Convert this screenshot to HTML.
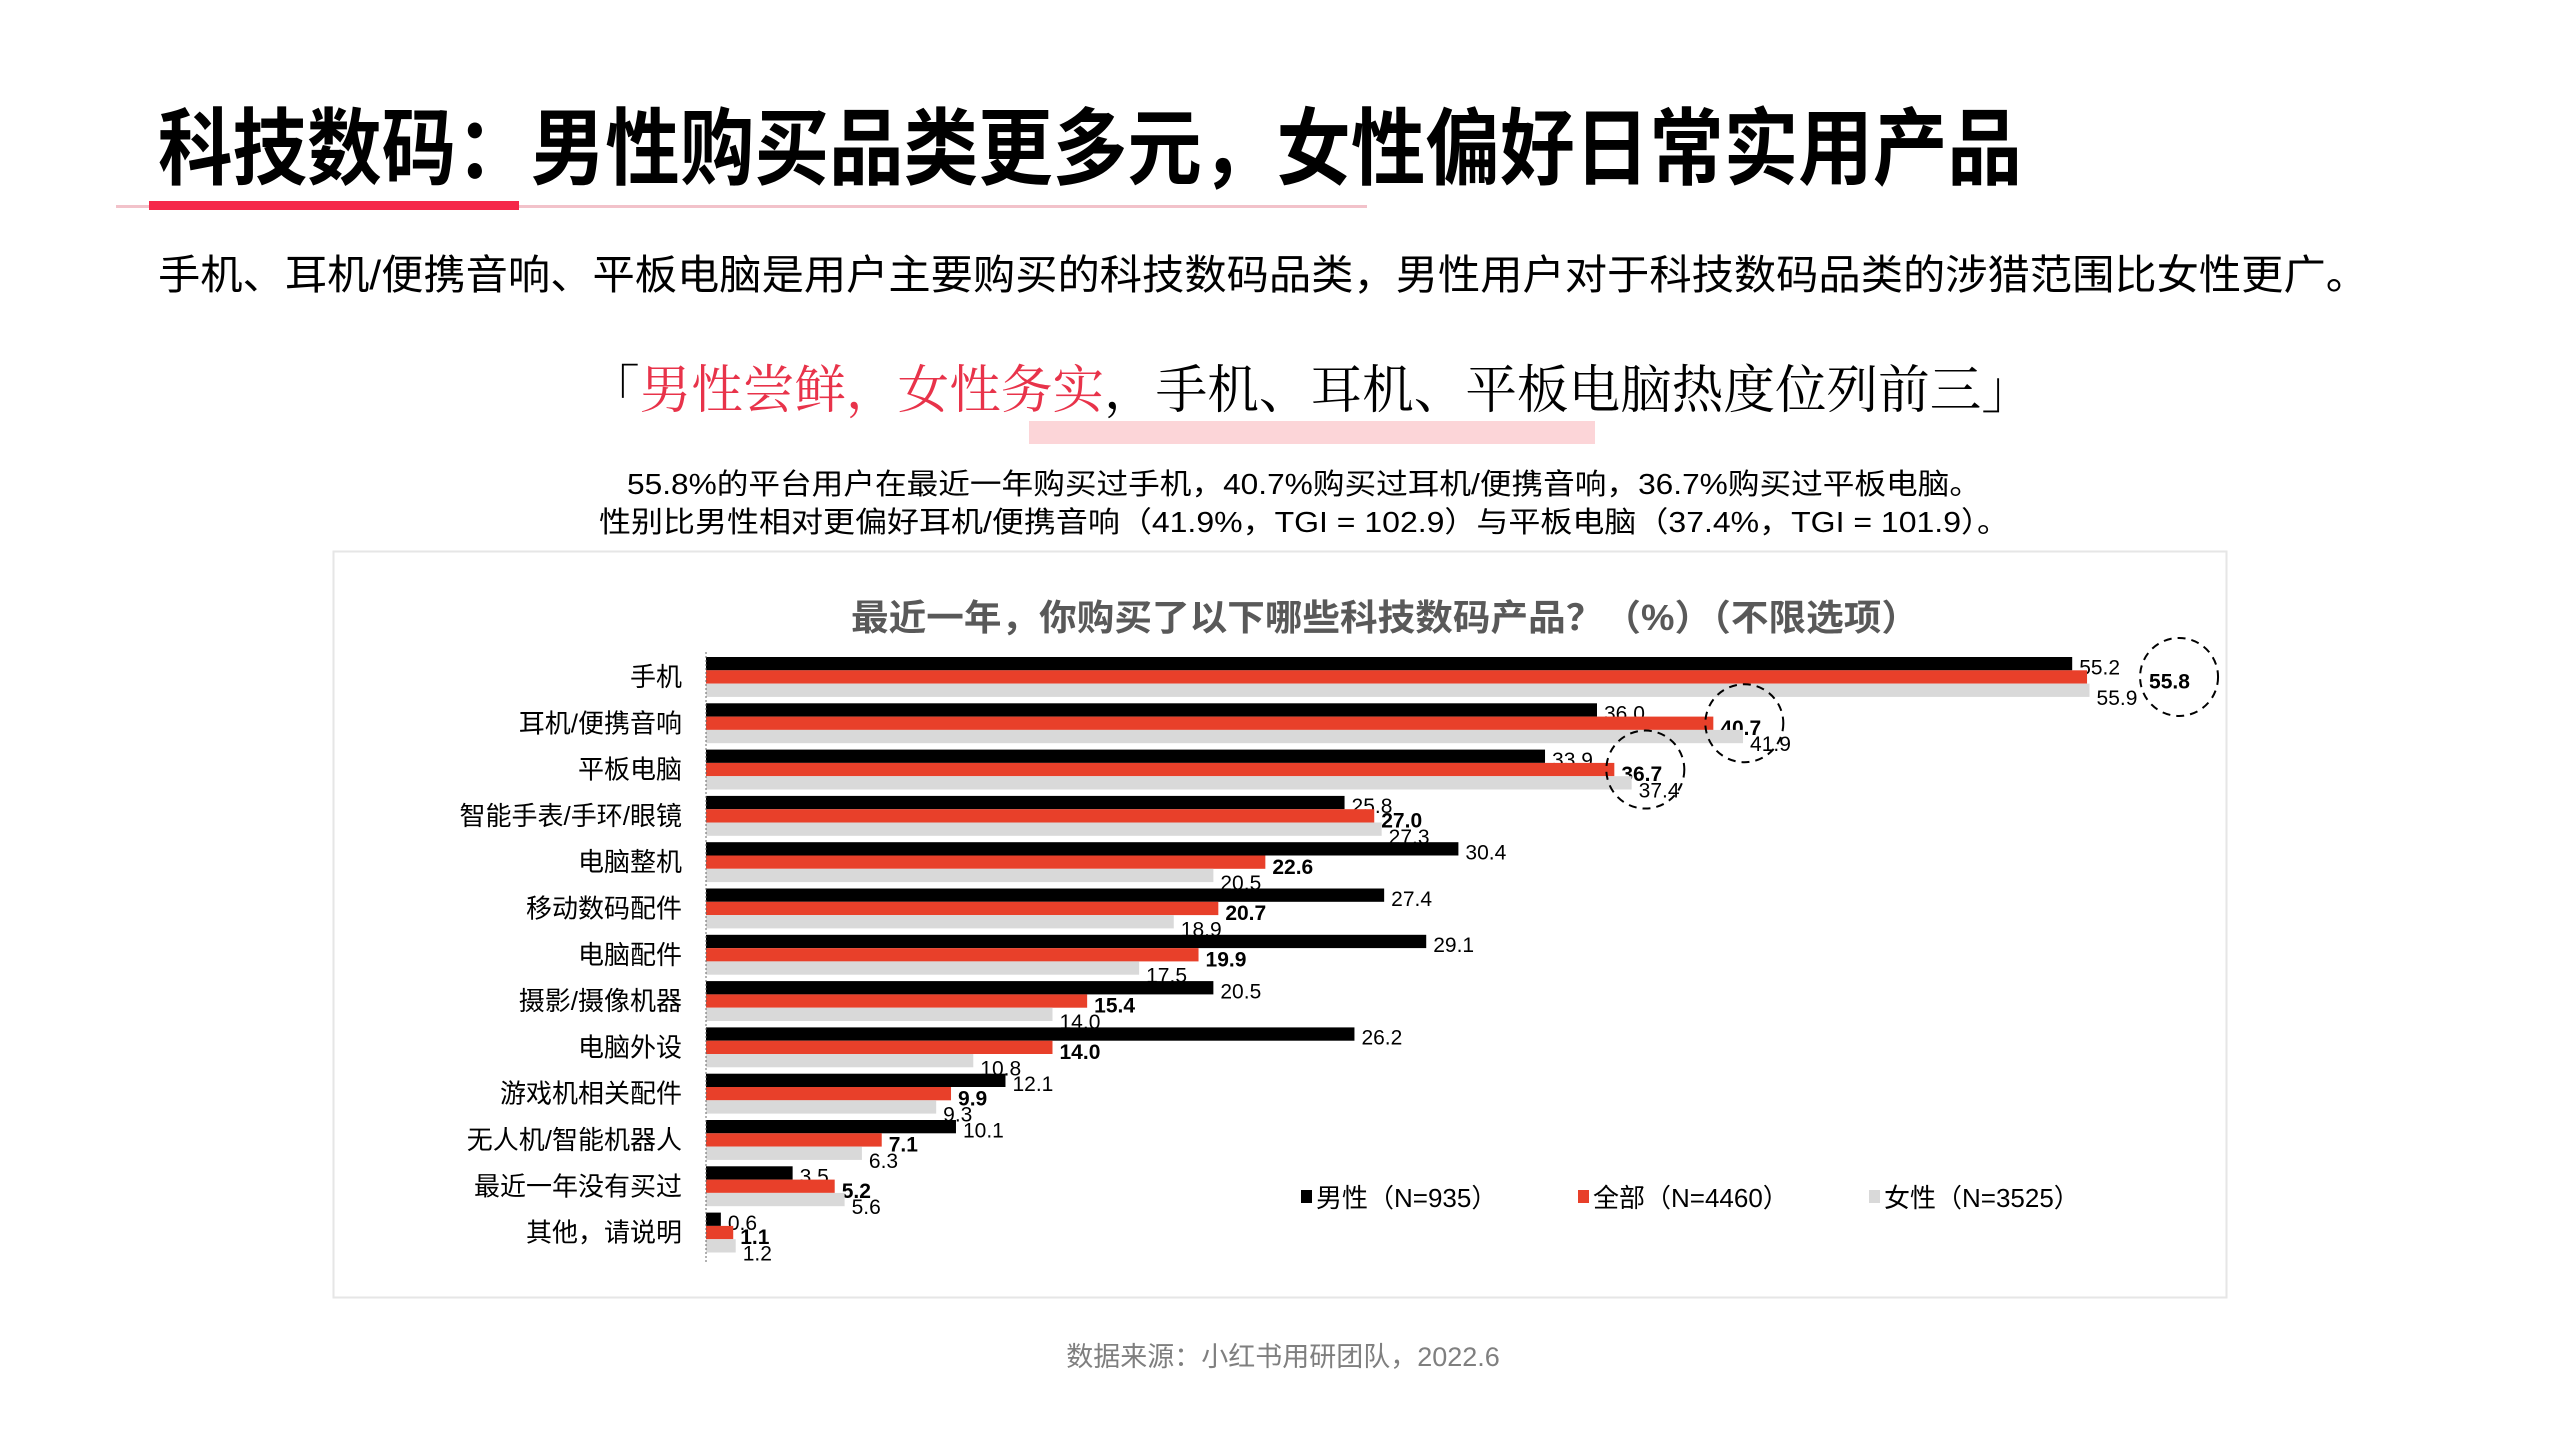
<!DOCTYPE html>
<html><head><meta charset="utf-8">
<style>
html,body{margin:0;padding:0;background:#fff;width:2560px;height:1440px;overflow:hidden}
svg{display:block}
text{font-family:"Liberation Sans","Noto Sans CJK SC",sans-serif}
</style></head>
<body>
<svg id="page" width="2560" height="1440" viewBox="0 0 2560 1440" xmlns="http://www.w3.org/2000/svg">
  <text x="158" y="178" font-size="84" font-weight="bold" fill="#000" textLength="1864" lengthAdjust="spacingAndGlyphs">科技数码：男性购买品类更多元，女性偏好日常实用产品</text>
  <rect x="116" y="205" width="1251" height="3" fill="#f2c2ca"/>
  <rect x="149" y="201" width="370" height="9" fill="#f5284a"/>
  <text x="158" y="289" font-size="41" fill="#000" textLength="2210" lengthAdjust="spacingAndGlyphs">手机、耳机/便携音响、平板电脑是用户主要购买的科技数码品类，男性用户对于科技数码品类的涉猎范围比女性更广。</text>
  <rect x="1029" y="421" width="566" height="23" fill="#fcd5d8"/>
  <text x="588" y="408" font-size="52" textLength="1445" lengthAdjust="spacingAndGlyphs" style='font-family:"Liberation Serif","Noto Serif CJK SC",serif'><tspan fill="#000">「</tspan><tspan fill="#e8334a">男性尝鲜，女性务实</tspan><tspan fill="#000">，手机、耳机、平板电脑热度位列前三」</tspan></text>
  <text x="627" y="494" font-size="29" fill="#000" textLength="1354" lengthAdjust="spacingAndGlyphs">55.8%的平台用户在最近一年购买过手机，40.7%购买过耳机/便携音响，36.7%购买过平板电脑。</text>
  <text x="599" y="532" font-size="29" fill="#000" textLength="1410" lengthAdjust="spacingAndGlyphs">性别比男性相对更偏好耳机/便携音响（41.9%，TGI = 102.9）与平板电脑（37.4%，TGI = 101.9）。</text>
  <rect x="333.5" y="551.5" width="1893" height="746" fill="#fff" stroke="#e6e6e6" stroke-width="2"/>
  <text x="1385" y="630" font-size="36" font-weight="bold" fill="#595959" text-anchor="middle" textLength="1068" lengthAdjust="spacingAndGlyphs">最近一年，你购买了以下哪些科技数码产品？（%）（不限选项）</text>
  <g id="bars"></g>
  <line x1="706" y1="652" x2="706" y2="1262" stroke="#666" stroke-width="1" stroke-dasharray="2,2"/>
  <g>
    <g><rect x="1301" y="1190" width="11" height="13" fill="#000"/><text x="1316" y="1207" font-size="26">男性（N=935）</text></g>
    <g><rect x="1578" y="1190" width="11" height="13" fill="#e8402a"/><text x="1593" y="1207" font-size="26">全部（N=4460）</text></g>
    <g><rect x="1869" y="1190" width="11" height="13" fill="#d9d9d9"/><text x="1884" y="1207" font-size="26">女性（N=3525）</text></g>
  </g>
  <text x="1283" y="1366" font-size="27" fill="#7f7f7f" text-anchor="middle">数据来源：小红书用研团队，2022.6</text>
</svg>
<script>
const categories = ["手机","耳机/便携音响","平板电脑","智能手表/手环/眼镜","电脑整机","移动数码配件","电脑配件","摄影/摄像机器","电脑外设","游戏机相关配件","无人机/智能机器人","最近一年没有买过","其他，请说明"];
const maleValues = [55.2,36.0,33.9,25.8,30.4,27.4,29.1,20.5,26.2,12.1,10.1,3.5,0.6];
const allValues = [55.8,40.7,36.7,27.0,22.6,20.7,19.9,15.4,14.0,9.9,7.1,5.2,1.1];
const femaleValues = [55.9,41.9,37.4,27.3,20.5,18.9,17.5,14.0,10.8,9.3,6.3,5.6,1.2];
const highlighted = [0,1,2];

const NS = "http://www.w3.org/2000/svg";
const g = document.getElementById("bars");
const x0 = 706, unit = 24.75, top0 = 657, step = 46.3, bh = 13.3;
function xScale(v){ return x0 + v*unit; }
function yGroup(i){ return top0 + i*step; }
function mk(tag, attrs){ const e = document.createElementNS(NS, tag); for (const k in attrs) e.setAttribute(k, attrs[k]); g.appendChild(e); return e; }

const series = [
  {vals: maleValues, color:"#000000", name:"male", bold:false, dy:-1},
  {vals: allValues, color:"#e8402a", name:"all", bold:true, dy:0},
  {vals: femaleValues, color:"#d9d9d9", name:"female", bold:false, dy:3}
];
categories.forEach((c, i) => {
  const gy = yGroup(i);
  const lab = mk("text", {x: 682, y: gy + bh*1.5 + 9, "font-size": 26, "text-anchor": "end", fill: "#000"});
  lab.textContent = c;
  
  
  series.forEach((s, k) => {
    const v = s.vals[i];
    const y = gy + k*bh;
    const r = mk("rect", {x: x0, y: y, width: xScale(v) - x0, height: bh, fill: s.color});
    
    
    let tx = xScale(v) + 7;
    if (i === 0 && s.name === "all") tx = xScale(v) + 62;
    const t = mk("text", {x: tx, y: y + bh + 5 + s.dy, "font-size": 21, fill: "#000"});
    if (s.bold) t.setAttribute("font-weight", "bold");
    t.textContent = v.toFixed(1);
    
    
  });
});
highlighted.forEach(i => {
  const cx = i === 0 ? xScale(allValues[i]) + 92 : xScale(allValues[i]) + 31;
  const cy = yGroup(i) + bh*1.5;
  const c = mk("circle", {cx: cx, cy: cy, r: 39, fill: "none", stroke: "#000", "stroke-width": 2, "stroke-dasharray": "8,6"});
  
  
});
</script>
</body></html>
